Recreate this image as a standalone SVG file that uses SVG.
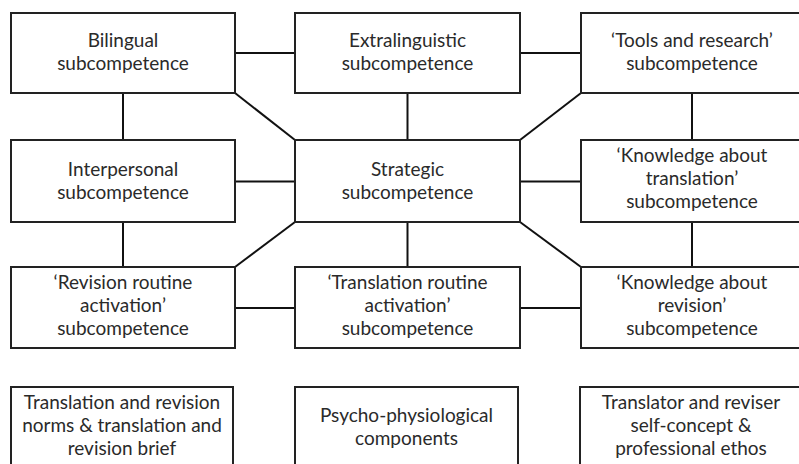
<svg xmlns="http://www.w3.org/2000/svg" width="799" height="464" viewBox="0 0 799 464">
<style>
.box{fill:#fff;stroke:#222;stroke-width:2}
.ln{stroke:#111;stroke-width:2;fill:none}
text{font-family:Lato,"Open Sans","Liberation Sans",sans-serif;font-size:19px;fill:#2a2a2a;text-anchor:middle}
</style>
<rect width="799" height="464" fill="#fff"/>
<g id="connectors">
<line class="ln" x1="235" y1="53" x2="295" y2="53"/>
<line class="ln" x1="520" y1="53" x2="581" y2="53"/>
<line class="ln" x1="123" y1="93" x2="123" y2="140"/>
<line class="ln" x1="407.5" y1="93" x2="407.5" y2="140"/>
<line class="ln" x1="692" y1="93" x2="692" y2="140"/>
<line class="ln" x1="235" y1="93" x2="295" y2="140"/>
<line class="ln" x1="581" y1="93" x2="520" y2="140"/>
<line class="ln" x1="235" y1="181.5" x2="295" y2="181.5"/>
<line class="ln" x1="520" y1="181.5" x2="581" y2="181.5"/>
<line class="ln" x1="123" y1="222" x2="123" y2="267"/>
<line class="ln" x1="407.5" y1="222" x2="407.5" y2="267"/>
<line class="ln" x1="692" y1="222" x2="692" y2="267"/>
<line class="ln" x1="295" y1="222" x2="235" y2="267"/>
<line class="ln" x1="520" y1="222" x2="581" y2="267"/>
<line class="ln" x1="235" y1="308" x2="295" y2="308"/>
<line class="ln" x1="520" y1="308" x2="581" y2="308"/>
</g>
<g id="bilingual"><rect class="box" x="11" y="13" width="224" height="80"/><text x="123" y="46.5">Bilingual</text><text x="123" y="69.5">subcompetence</text></g>
<g id="extralinguistic"><rect class="box" x="295" y="13" width="225" height="80"/><text x="407.5" y="46.5">Extralinguistic</text><text x="407.5" y="69.5">subcompetence</text></g>
<g id="tools"><rect class="box" x="581" y="13" width="230" height="80"/><text x="692" y="46.5">‘Tools and research’</text><text x="692" y="69.5">subcompetence</text></g>
<g id="interpersonal"><rect class="box" x="11" y="140" width="224" height="82"/><text x="123" y="175.5">Interpersonal</text><text x="123" y="198.5">subcompetence</text></g>
<g id="strategic"><rect class="box" x="295" y="140" width="225" height="82"/><text x="407.5" y="175.5">Strategic</text><text x="407.5" y="198.5">subcompetence</text></g>
<g id="knowledge-translation"><rect class="box" x="581" y="140" width="230" height="82"/><text x="692" y="161.5">‘Knowledge about</text><text x="692" y="184.5">translation’</text><text x="692" y="208">subcompetence</text></g>
<g id="revision-routine"><rect class="box" x="11" y="267" width="224" height="81"/><text x="123" y="288.5">‘Revision routine</text><text x="123" y="311.5">activation’</text><text x="123" y="335">subcompetence</text></g>
<g id="translation-routine"><rect class="box" x="295" y="267" width="225" height="81"/><text x="407.5" y="288.5">‘Translation routine</text><text x="407.5" y="311.5">activation’</text><text x="407.5" y="335">subcompetence</text></g>
<g id="knowledge-revision"><rect class="box" x="581" y="267" width="230" height="81"/><text x="692" y="288.5">‘Knowledge about</text><text x="692" y="311.5">revision’</text><text x="692" y="335">subcompetence</text></g>
<g id="norms"><rect class="box" x="11" y="387" width="222" height="90"/><text x="122" y="408.5">Translation and revision</text><text x="122" y="431.5">norms &amp; translation and</text><text x="122" y="454.5">revision brief</text></g>
<g id="psycho"><rect class="box" x="295" y="387" width="223" height="90"/><text x="406.5" y="421.5">Psycho-physiological</text><text x="406.5" y="444.5">components</text></g>
<g id="self-concept"><rect class="box" x="580" y="387" width="230" height="90"/><text x="691" y="408.5">Translator and reviser</text><text x="691" y="431.5">self-concept &amp;</text><text x="691" y="454.5">professional ethos</text></g>
</svg>
